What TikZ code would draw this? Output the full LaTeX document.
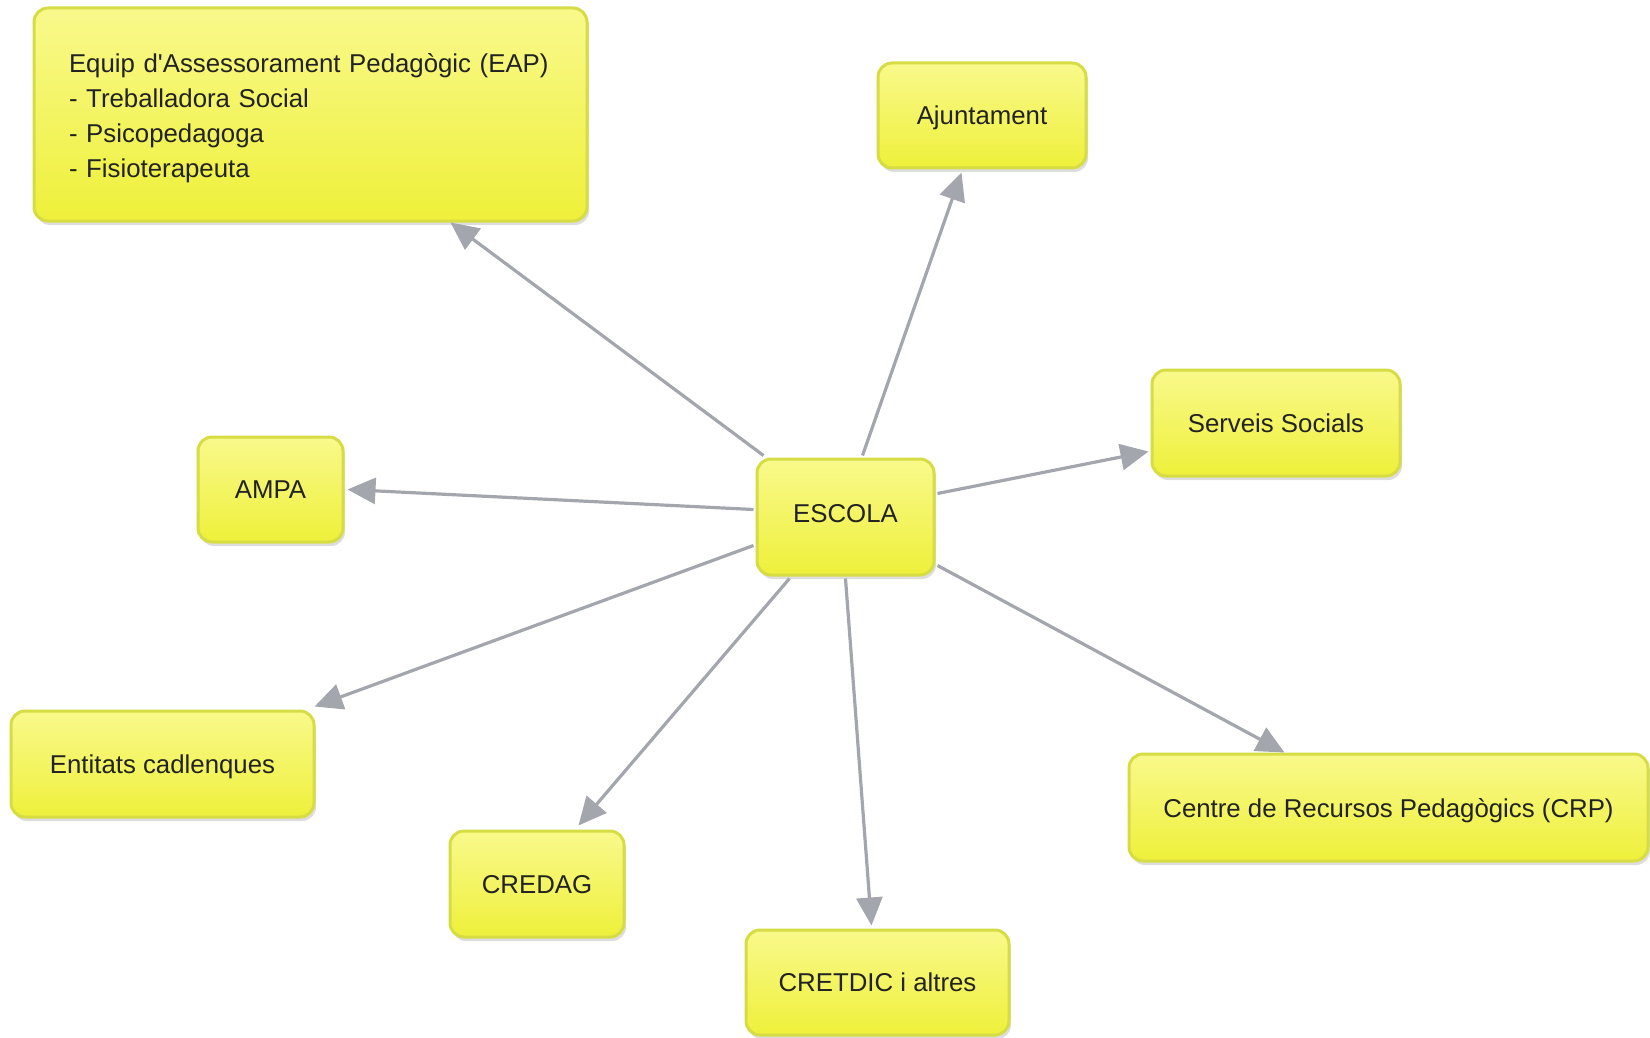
\documentclass[tikz,border=0pt]{standalone}
\usepackage{fontspec}
\newfontfamily\boxfont{Liberation Sans}
\usetikzlibrary{arrows.meta,calc,shadows}
\definecolor{boxtop}{RGB}{249,249,140}
\definecolor{boxbot}{RGB}{238,240,58}
\definecolor{boxline}{RGB}{214,220,68}
\definecolor{arrowgray}{RGB}{163,166,173}
\definecolor{txt}{RGB}{34,34,34}
\tikzset{
  ybox/.style={rectangle, rounded corners=7pt, draw=boxline, line width=1.5pt,
    top color=boxtop, bottom color=boxbot, inner sep=0pt, text depth=0pt,
    drop shadow={shadow xshift=1pt, shadow yshift=-2pt, opacity=0.22, fill=black!60},
    font=\boxfont\fontsize{12.9}{17.5}\selectfont, text=txt, align=center},
  link/.style={draw=arrowgray, line width=1.6pt,
    -{Triangle[length=14pt,width=13pt]}}
}
\begin{document}
\begin{tikzpicture}[x=0.5pt,y=-0.5pt]
\useasboundingbox (0,0) rectangle (1650,1038);
\node[ybox, text depth={}, minimum width=276.5pt, minimum height=106.5pt, text width=241.5pt, align=left]
  (eap) at (310.5,114.5) {\rule{0pt}{13.5pt}\mbox{Equip d'Assessorament Pedagògic (EAP)}\\\mbox{- Treballadora Social}\\\mbox{- Psicopedagoga}\\\mbox{- Fisioterapeuta}};
\node[ybox, minimum width=104pt, minimum height=52.5pt] (ajun) at (982,115.5) {Ajuntament};
\node[ybox, minimum width=124pt, minimum height=53pt] (serv) at (1276,423) {Serveis Socials};
\node[ybox, minimum width=72.5pt, minimum height=52.5pt] (ampa) at (270.5,489.5) {AMPA};
\node[ybox, text depth=4pt, minimum width=88.5pt, minimum height=58pt] (escola) at (845.5,517) {ESCOLA};
\node[ybox, minimum width=151.5pt, minimum height=53pt] (ent) at (162.5,764) {Entitats cadlenques};
\node[ybox, minimum width=87pt, minimum height=53pt] (credag) at (537,884) {CREDAG};
\node[ybox, minimum width=131.5pt, minimum height=52.5pt] (cretdic) at (877.5,982.5) {CRETDIC i altres};
\node[ybox, minimum width=259.5pt, minimum height=53.5pt] (crp) at (1388.5,807.5) {Centre de Recursos Pedagògics (CRP)};

\draw[link] ($(escola.north west)+(8,-2)$) -- ($(eap.south west)+(418,0)$);
\draw[link] ($(escola.north west)+(107,-2)$) -- ($(ajun.south west)+(85,3)$);
\draw[link] ($(escola.north east)+(2,36)$) -- ($(serv.north west)+(-2,83)$);
\draw[link] ($(escola.north west)+(-2,52)$) -- ($(ampa.north east)+(3,54)$);
\draw[link] ($(escola.north west)+(-2,88)$) -- ($(ent.north east)+(-1,-3)$);
\draw[link] ($(escola.south west)+(34,2)$) -- ($(credag.north west)+(130,-4)$);
\draw[link] ($(escola.south west)+(90,2)$) -- ($(cretdic.north west)+(127,-3)$);
\draw[link] ($(escola.south east)+(2,-11)$) -- ($(crp.north west)+(157,0)$);
\end{tikzpicture}
\end{document}
